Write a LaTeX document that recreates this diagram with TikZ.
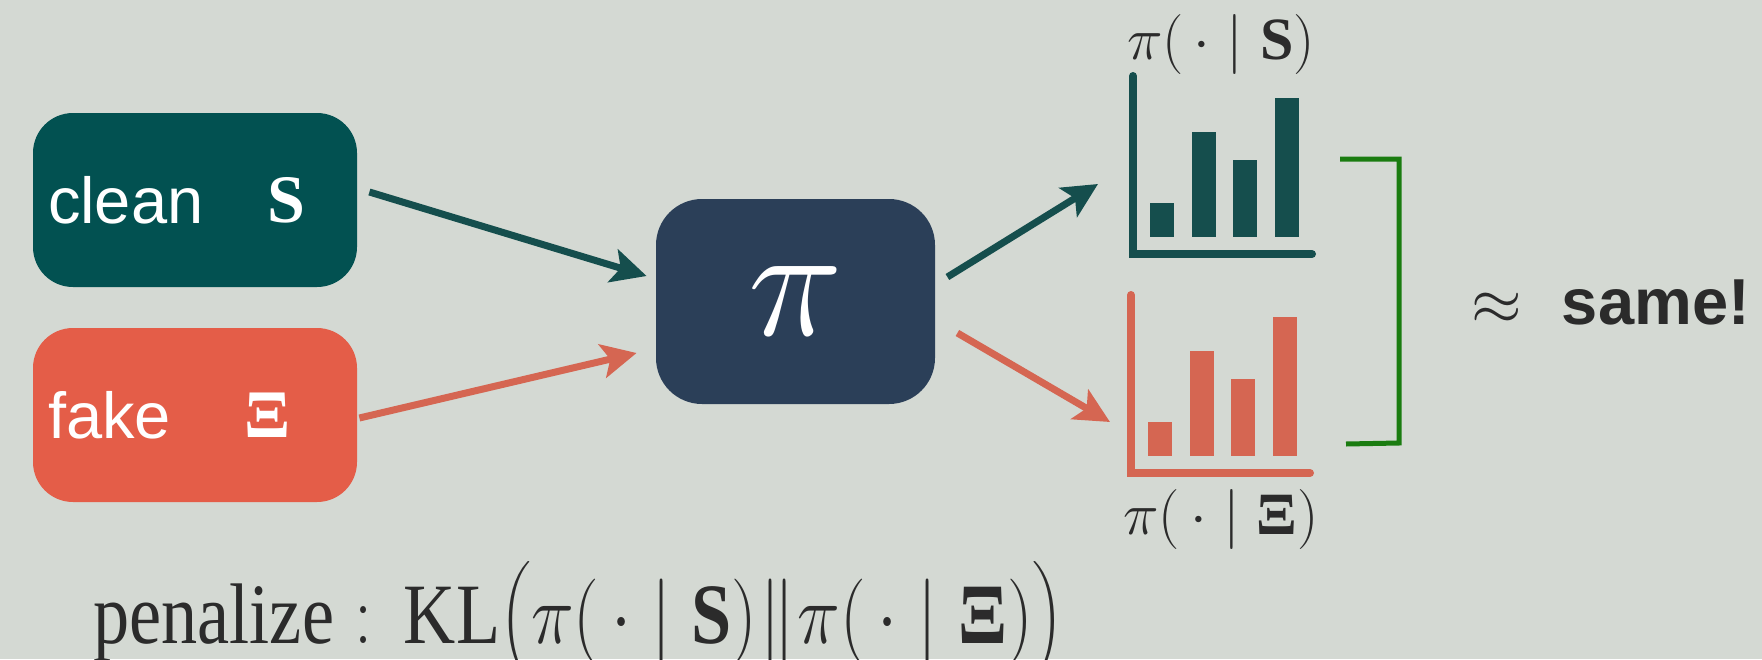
\RequirePackage{fix-cm}
\documentclass[tikz,border=0pt]{standalone}
\usepackage{amsmath}
\usepackage{graphicx}
\usepackage{fontspec}
\setmainfont{Liberation Serif}
\setsansfont{Liberation Sans}
\usetikzlibrary{arrows.meta}

\definecolor{bgcol}{HTML}{D4D9D3}
\definecolor{cleancol}{HTML}{025151}
\definecolor{fakecol}{HTML}{E45D48}
\definecolor{policycol}{HTML}{2B3F58}
\definecolor{cleanline}{HTML}{154E4D}
\definecolor{fakeline}{HTML}{D56652}
\definecolor{brackcol}{HTML}{1A7C10}
\definecolor{inkcol}{HTML}{2B2B2B}

\begin{document}
\begin{tikzpicture}[x=0.5pt, y=-0.5pt,
        source/.style={rectangle, rounded corners=20pt, minimum width=162pt, minimum height=87pt, inner xsep=7.5pt, text width=147pt, align=left, text=white, font=\fontsize{32.5}{36}\selectfont\sffamily},
        setlabel/.style={inner sep=0pt, anchor=base west, text=white, font=\fontsize{34}{36}\selectfont\rmfamily\bfseries},
        policy/.style={rectangle, rounded corners=23pt, minimum width=139.5pt, minimum height=102.5pt, fill=policycol, text=white, font=\fontsize{80}{84}\selectfont},
        dist/.style={inner sep=0pt, text=inkcol, font=\fontsize{30}{34}\selectfont},
        paths/.style={line width=3.5pt, -{Stealth[length=17.5pt, width=17pt, inset=4pt]}},
        axis/.style={line width=4pt, line cap=round},
        bracket/.style={line width=2.5pt, draw=brackcol}
    ]
        % Canvas
        \useasboundingbox (0,0) rectangle (1762,659);
        \clip (0,0) rectangle (1762,659);
        \fill[bgcol] (0,0) rectangle (1762,659);

        % Nodes
        \node[source, fill=cleancol] (clean) at (195,200) {clean};
        \node[source, fill=fakecol] (fake) at (195,415) {fake};
        \node[setlabel] (cleanset) at ([shift={(72,22)}]clean.center) {S};
        \node[setlabel] (fakeset) at ([shift={(49,22)}]fake.center) {Ξ};
        \node[policy] (pi) at (795.5,301.5) {$\pi$};

        % Charts
        \coordinate (topchart) at (1133,254);
        \coordinate (botchart) at (1131,473);
        \draw[axis, cleanline] ([shift={(0,-178)}]topchart) |- ([shift={(179,0)}]topchart);
        \draw[axis, fakeline] ([shift={(0,-178)}]botchart) |- ([shift={(179,0)}]botchart);
        \foreach \bx/\bh in {17/34, 59/105, 100/77, 142/139} {
            \fill[cleanline] ([shift={(\bx,-17.5)}]topchart) rectangle ++(23.5,-\bh);
            \fill[fakeline] ([shift={(\bx,-17.5)}]botchart) rectangle ++(23.5,-\bh);
        }

        \node[dist, anchor=base] (cleandist) at (1221,59) {$\pi(\,\cdot\mid\textbf{S})$};
        \node[dist, anchor=base] (fakedist) at (1221,534) {$\pi(\,\cdot\mid\textbf{Ξ})$};

        % Paths: Inputs
        \draw[paths, cleanline] ([shift={(12,-8)}]clean.east) -- ([shift={(-9,-25.5)}]pi.west);
        \draw[paths, fakeline] ([shift={(2,3)}]fake.east) -- ([shift={(-19,51.5)}]pi.west);

        % Paths: Outputs
        \draw[paths, cleanline] ([shift={(12,-24.5)}]pi.east) -- ([shift={(-33,-70)}]botchart |- topchart);
        \draw[paths, fakeline] ([shift={(22,31.5)}]pi.east) -- ([shift={(-21,-51)}]botchart);

        % Comparison
        \draw[bracket] (1340,159) -- (1399,159) -- (1399,443) -- (1346,444);
        \node[inner sep=0pt, anchor=base west, text=inkcol, font=\fontsize{32.5}{36}\selectfont\sffamily] (same) at (1471,324) {$\approx$\hspace{20pt}\textbf{same!}};

        % Penalty
        \node[inner sep=0pt, anchor=base west, text=inkcol, font=\fontsize{43}{50}\selectfont] (penalty) at (93,643) {\scalebox{0.84}[1]{$\text{penalize}:\hspace{7pt}\mathrm{KL}\big(\pi(\,\cdot\mid\textbf{S})\mskip0.5mu\|\mskip0.5mu\pi(\,\cdot\mid\textbf{Ξ})\big)$}};
    \end{tikzpicture}
\end{document}
